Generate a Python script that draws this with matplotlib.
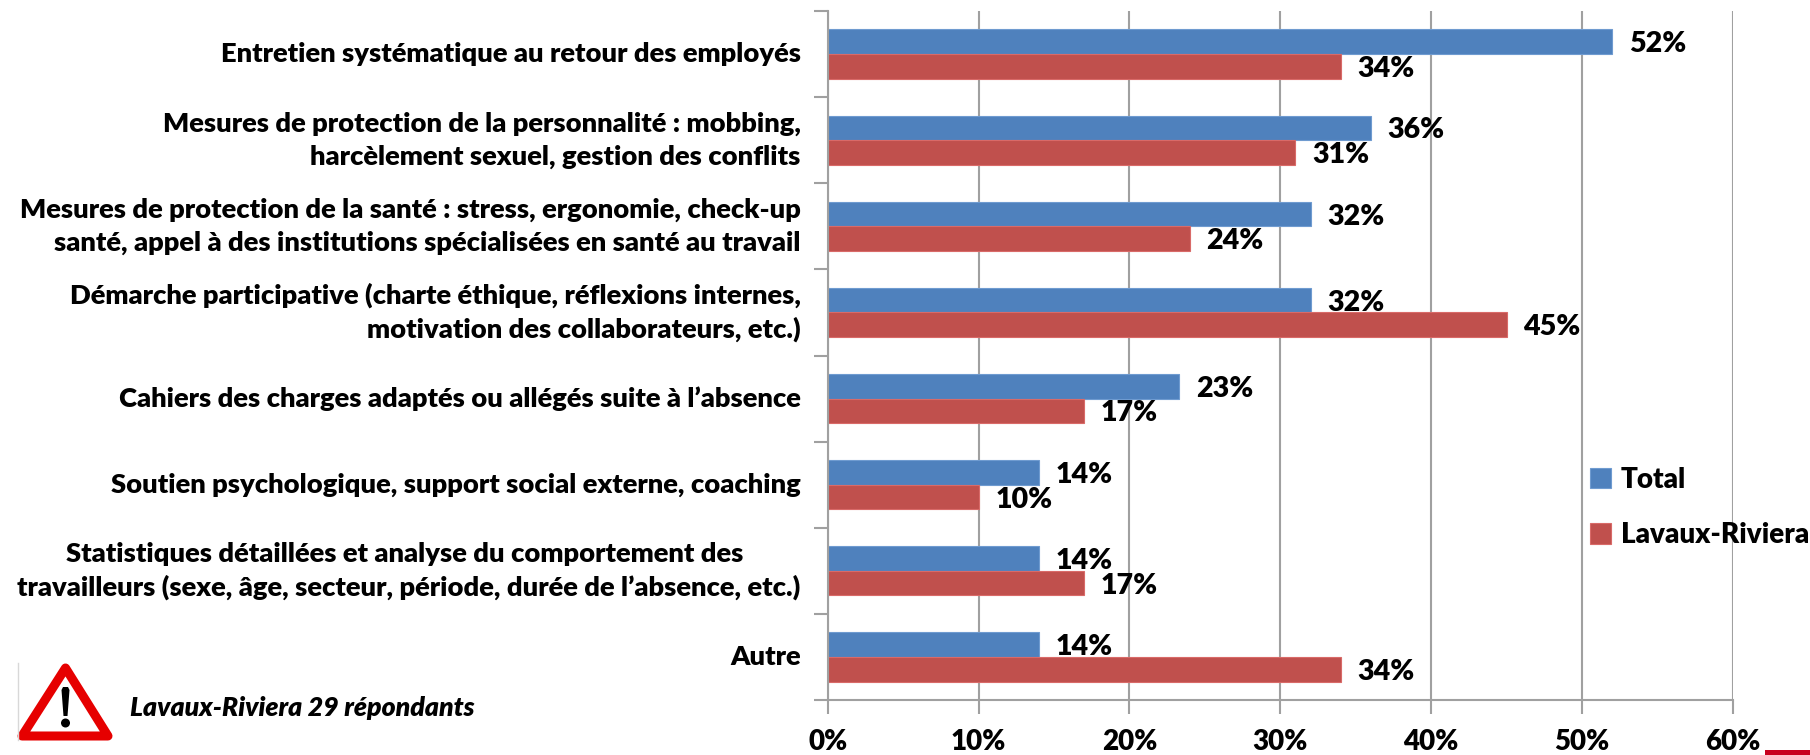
import matplotlib
matplotlib.use('Agg')
import matplotlib.pyplot as plt
import matplotlib.patches as patches
import numpy as np

categories = [
    'Entretien systématique au retour des employés',
    'Mesures de protection de la personnalité : mobbing,\nharcèlement sexuel, gestion des conflits',
    'Mesures de protection de la santé : stress, ergonomie, check-up\nsanté, appel à des institutions spécialisées en santé au travail',
    'Démarche participative (charte éthique, réflexions internes,\nmotivation des collaborateurs, etc.)',
    'Cahiers des charges adaptés ou allégés suite à l’absence',
    'Soutien psychologique, support social externe, coaching',
    'Statistiques détaillées et analyse du comportement des\u00a0\u00a0\u00a0\u00a0\u00a0\u00a0\u00a0\u00a0\u00a0\n'
    'travailleurs (sexe, âge, secteur, période, durée de l’absence, etc.)',
    'Autre',
]
total = [52, 36, 32, 32, 23.3, 14, 14, 14]
lavaux = [34, 31, 24, 45, 17, 10, 17, 34]
x_ticks = [0, 10, 20, 30, 40, 50, 60]

plt.rcParams['font.family'] = ['Lato', 'DejaVu Sans']
plt.rcParams['font.weight'] = 'heavy'

W, H = 1810, 755
fig = plt.figure(figsize=(W / 100, H / 100), dpi=100)
ax = fig.add_axes([827.7 / W, 1 - 700 / H, (1733 - 827.7) / W, (700 - 11) / H])

GREY = '#a0a0a0'
y = np.arange(len(categories))
h = 0.2857
ax.barh(y - h / 2, total, h, color='#4f81bd', edgecolor='#6f9bd0', linewidth=0.8, label='Total', zorder=2)
ax.barh(y + h / 2, lavaux, h, color='#c0504d', edgecolor='#d96a68', linewidth=0.8, label='Lavaux-Riviera', zorder=2.5)

# les etiquettes du total passent sous les barres rouges, comme dans l'original
for i in y:
    ax.text(total[i] + 1.1, i - h / 2 + 0.03, f'{round(total[i])}%', va='center', ha='left',
            fontsize=20.6, color='black', zorder=2.2)
    ax.text(lavaux[i] + 1.1, i + h / 2 + 0.03, f'{round(lavaux[i])}%', va='center', ha='left',
            fontsize=20.6, color='black', zorder=3)

ax.set_xlim(0, 60)
ax.set_ylim(len(categories) - 0.5, -0.5)
ax.set_xticks(x_ticks)
ax.set_xticklabels([f'{t}%' for t in x_ticks], fontsize=20)
ax.set_yticks(np.arange(len(categories) + 1) - 0.5)
ax.set_yticklabels([])
ax.tick_params(axis='x', length=10, width=1.5, color=GREY, pad=11)
ax.tick_params(axis='y', length=10, width=1.5, color=GREY)
ax.grid(axis='x', color=GREY, linewidth=1.5, zorder=1)
ax.set_axisbelow(True)
for s in ['top', 'right']:
    ax.spines[s].set_visible(False)
for s in ['left', 'bottom']:
    ax.spines[s].set_color(GREY)
    ax.spines[s].set_linewidth(1.5)

# libelles a gauche, alignes a droite
for i, cat in enumerate(categories):
    ax.annotate(cat, xy=(0, i), xycoords=('axes fraction', 'data'), xytext=(-27, 0),
                textcoords='offset pixels', ha='right', va='center', ma='right',
                fontsize=19.7, linespacing=1.42)

ax.legend(loc='upper left', bbox_to_anchor=(1590 / W, 1 - 467 / H), bbox_transform=fig.transFigure,
          frameon=False, fontsize=20, handlelength=0.75, handleheight=0.75, handletextpad=0.35,
          labelspacing=1.05, borderpad=0, borderaxespad=0)

# panneau et note en bas a gauche, en pixels
over = fig.add_axes([0, 0, 1, 1], zorder=5)
over.set_xlim(0, W)
over.set_ylim(H, 0)
over.axis('off')
over.plot([18, 18], [663, 740], color='#d8d8d8', linewidth=1)
over.add_patch(patches.Polygon([(65.5, 668), (108, 736), (22, 736)], closed=True, facecolor='white',
                               edgecolor='#e60000', linewidth=6.5, joinstyle='round'))
over.add_patch(patches.Polygon([(61.5, 690), (63, 687), (68, 687), (69.5, 690), (67.5, 716), (63.5, 716)],
                               closed=True, facecolor='black', edgecolor='none'))
over.add_patch(patches.Circle((65.5, 723), 4.5, facecolor='black', edgecolor='none'))
over.text(130, 708, 'Lavaux-Riviera 29 répondants', fontsize=19.2, fontstyle='italic',
          ha='left', va='center')
over.add_patch(patches.Rectangle((1765, 750), 45, 5, facecolor='#c8001e', edgecolor='none'))

fig.savefig('out.png', dpi=100)
